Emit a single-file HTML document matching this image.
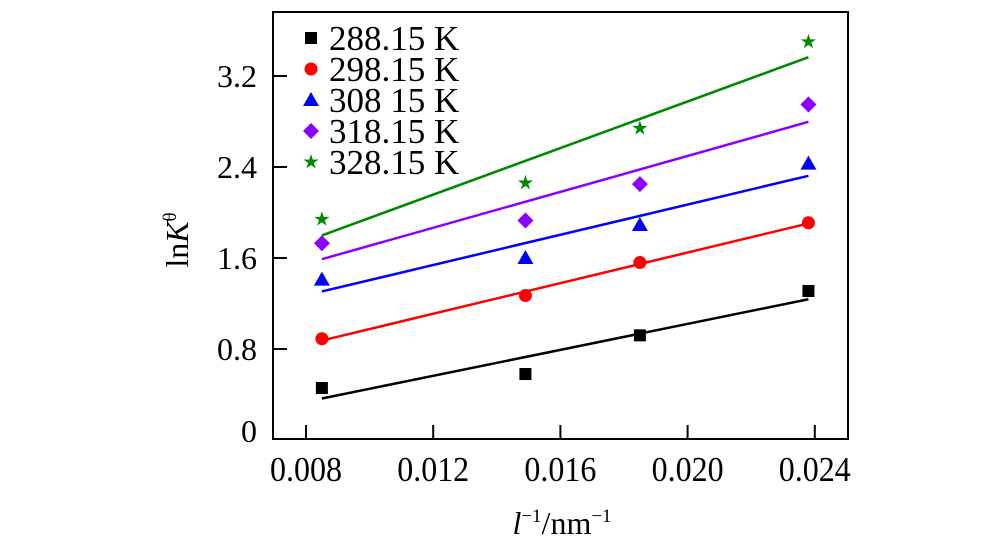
<!DOCTYPE html>
<html><head><meta charset="utf-8"><style>
body{margin:0;background:#fff}
svg text{font-family:"Liberation Serif",serif;fill:#000}
</style></head><body>
<svg id="chart" width="1000" height="553" viewBox="0 0 1000 553" xmlns="http://www.w3.org/2000/svg">
<g id="plot"></g>
</svg>
<script>
const xValues=[0.0085,0.0149,0.0185,0.0238];
const series288=[0.457,0.58,0.92,1.31];
const series298=[0.89,1.27,1.56,1.91];
const series308=[1.41,1.60,1.89,2.43];
const series318=[1.73,1.93,2.25,2.95];
const series328=[1.94,2.26,2.74,3.50];
const seriesLabels=["288.15 K","298.15 K","308 15 K","318.15 K","328.15 K"];
const xTicks=[0.008,0.012,0.016,0.020,0.024];
const xTickLabels=["0.008","0.012","0.016","0.020","0.024"];
const yTicks=[0,0.8,1.6,2.4,3.2];
const yTickLabels=["0","0.8","1.6","2.4","3.2"];

const NS="http://www.w3.org/2000/svg";
const g=document.getElementById('plot');
const L=273,R=848,T=12,B=439;
const sx=v=>306+(v-0.008)/0.004*127.2;
const sy=v=>440-v/0.8*91;
function el(tag,attrs,parent){const e=document.createElementNS(NS,tag);for(const k in attrs)e.setAttribute(k,attrs[k]);(parent||g).appendChild(e);return e;}

const frame=el('rect',{x:L,y:T,width:R-L,height:B-T,fill:'none',stroke:'#000','stroke-width':2});



xTicks.forEach((t,i)=>{
  const ln=el('line',{x1:sx(t),x2:sx(t),y1:B,y2:B-14,stroke:'#000','stroke-width':2});
  
  
  const tx=el('text',{x:sx(t),y:B+42,'text-anchor':'middle','font-size':32,transform:`translate(0,${B+42}) scale(1,1.08) translate(0,${-(B+42)})`});
  tx.textContent=xTickLabels[i];
  
  
});
yTicks.forEach((t,i)=>{
  if(t>0){const ln=el('line',{x1:L,x2:L+14,y1:sy(t),y2:sy(t),stroke:'#000','stroke-width':2});
  
  }
  const tx=el('text',{x:L-16,y:sy(t)+(t===0?2:11),'text-anchor':'end','font-size':32});
  tx.textContent=yTickLabels[i];
  
  
});

const yt=el('text',{x:0,y:0,'font-size':32,'text-anchor':'middle',transform:'translate(188,240) rotate(-90)'});
yt.innerHTML='ln<tspan font-style="italic">K</tspan><tspan font-size="19" dy="-12">θ</tspan>';


const xt=el('text',{x:562,y:534,'font-size':32,'text-anchor':'middle'});
xt.innerHTML='<tspan font-style="italic">l</tspan><tspan font-size="19" dy="-12">−1</tspan><tspan dy="12">/nm</tspan><tspan font-size="19" dy="-12">−1</tspan>';



const all=[series288,series298,series308,series318,series328];
const colors=['#000','#ff0000','#0000ff','#8b00ff','#008800'];
const shapes=['square','circle','triangle','diamond','star'];
function marker(shape,x,y,c){
  let e;
  if(shape==='square')e=el('rect',{x:x-6,y:y-6,width:12,height:12,fill:c});
  else if(shape==='circle')e=el('circle',{cx:x,cy:y,r:6.5,fill:c});
  else if(shape==='triangle')e=el('polygon',{points:`${x},${y-8} ${x+8},${y+6} ${x-8},${y+6}`,fill:c});
  else if(shape==='diamond')e=el('polygon',{points:`${x},${y-8} ${x+8},${y} ${x},${y+8} ${x-8},${y}`,fill:c});
  else{let p=[];for(let k=0;k<10;k++){const r=k%2?3:8,a=-Math.PI/2+k*Math.PI/5;p.push((x+r*Math.cos(a)).toFixed(1)+','+(y+r*Math.sin(a)).toFixed(1));}e=el('polygon',{points:p.join(' '),fill:c});}
  return e;
}
all.forEach((ys,si)=>{
  const n=xValues.length;const mx=xValues.reduce((a,b)=>a+b)/n,my=ys.reduce((a,b)=>a+b)/n;
  let num=0,den=0;xValues.forEach((x,i)=>{num+=(x-mx)*(ys[i]-my);den+=(x-mx)*(x-mx);});
  const k=num/den,b=my-k*mx;
  const x0=xValues[0],x1=xValues[n-1];
  const ln=el('line',{x1:sx(x0),y1:sy(k*x0+b),x2:sx(x1),y2:sy(k*x1+b),stroke:colors[si],'stroke-width':2.5});
  
  
  ys.forEach((v,i)=>{
    const m=marker(shapes[si],sx(xValues[i]),sy(v),colors[si]);
    
    
  });
  const ly=38+si*31;
  const lm=marker(shapes[si],311,ly,colors[si]);
  
  
  const lt=el('text',{x:329,y:ly+12,'font-size':35});
  lt.textContent=seriesLabels[si];
  
  
});
</script>
</body></html>
